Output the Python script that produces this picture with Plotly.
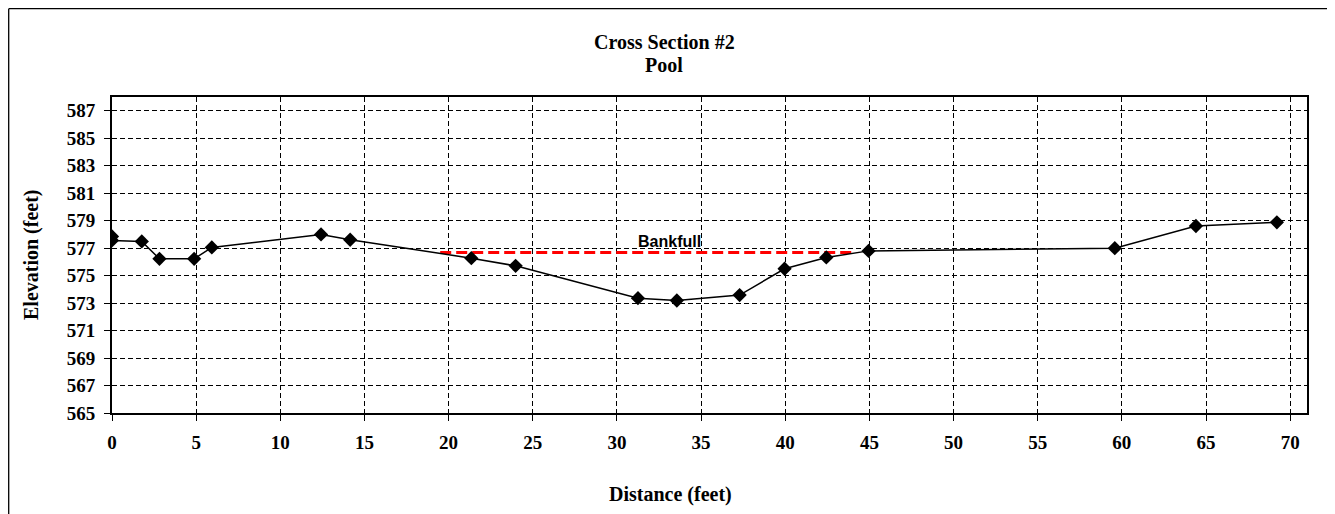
import plotly.graph_objects as go

# ---- data ----
distance = [0, 0, 1.77, 2.82, 4.88, 5.93, 12.42, 14.15, 21.35, 23.98, 31.25,
            33.56, 37.29, 39.96, 42.44, 44.95, 59.58, 64.4, 69.21]
elevation = [577.85, 577.56, 577.49, 576.22, 576.22, 577.05, 578.0, 577.61,
             576.27, 575.71, 573.36, 573.19, 573.58, 575.50, 576.32, 576.80,
             577.0, 578.61, 578.88]
bankfull_x = [19.5, 44.1]
bankfull_y = [576.68, 576.68]
bankfull_label = "Bankfull"
bankfull_label_pos = (33.15, 577.45)
title_lines = ["Cross Section #2", "Pool"]
x_title = "Distance (feet)"
y_title = "Elevation (feet)"

SERIF = "Liberation Serif"
SANS = "Liberation Sans"

# page body has an 8px margin, so the figure is sized to fit inside it
W, H = 1327, 506
ML, MR, MT, MB = 104, 28, 89, 101
PW, PH = W - ML - MR, H - MT - MB


def px_x(p):
    return (p - ML) / PW


def px_y(p):
    return (H - MB - p) / PH


fig = go.Figure()
fig.add_trace(go.Scatter(
    x=bankfull_x, y=bankfull_y, mode="lines",
    line=dict(color="#FF0000", width=3, dash="11px,5px"),
    hoverinfo="skip", showlegend=False))
fig.add_trace(go.Scatter(
    x=distance, y=elevation, mode="lines+markers",
    line=dict(color="black", width=1.5),
    marker=dict(symbol="diamond", size=11, color="black"),
    showlegend=False))

axis_common = dict(
    showgrid=True, gridcolor="black", gridwidth=1.4, griddash="5px,3px",
    showline=True, linecolor="black", linewidth=1.8, mirror=True,
    ticks="outside", tickcolor="black", ticklen=6, tickwidth=1,
    zeroline=False,
    tickfont=dict(family=SERIF, size=19, color="black", weight="bold"),
)

fig.update_xaxes(range=[0, 71], tick0=0, dtick=5, ticklabelstandoff=5,
                 **axis_common)
fig.update_yaxes(range=[565, 588], tick0=565, dtick=2, ticklabelstandoff=5,
                 **axis_common)


def label(text, x, y, size, family=SERIF, angle=0, xref="paper", yref="paper"):
    return dict(text=f"<b>{text}</b>", xref=xref, yref=yref, x=x, y=y,
                xanchor="center", yanchor="middle", showarrow=False,
                textangle=angle,
                font=dict(family=family, size=size, color="black"))


annotations = [
    label(title_lines[0], px_x(656), px_y(34), 20),
    label(title_lines[1], px_x(656), px_y(57), 20),
    label(x_title, px_x(662), px_y(486), 20),
    label(y_title, px_x(23), 0.5, 20, angle=-90),
    label(bankfull_label, bankfull_label_pos[0], bankfull_label_pos[1], 16,
          family=SANS, xref="x", yref="y"),
]

shapes = [
    dict(type="line", xref="paper", yref="paper",
         x0=px_x(0.7), x1=px_x(0.7), y0=px_y(0.7), y1=px_y(H + 10),
         line=dict(color="black", width=1.3)),
    dict(type="line", xref="paper", yref="paper",
         x0=px_x(0.7), x1=px_x(W), y0=px_y(0.7), y1=px_y(0.7),
         line=dict(color="black", width=1.3)),
    dict(type="line", xref="paper", yref="paper",
         x0=px_x(W - 0.5), x1=px_x(W - 0.5), y0=px_y(0.7), y1=px_y(H + 10),
         line=dict(color="#d0d0d0", width=1)),
]

fig.update_layout(
    width=W, height=H,
    margin=dict(l=ML, r=MR, t=MT, b=MB, pad=0),
    paper_bgcolor="white", plot_bgcolor="white",
    annotations=annotations, shapes=shapes,
    showlegend=False,
)

fig.write_html("out.html")
